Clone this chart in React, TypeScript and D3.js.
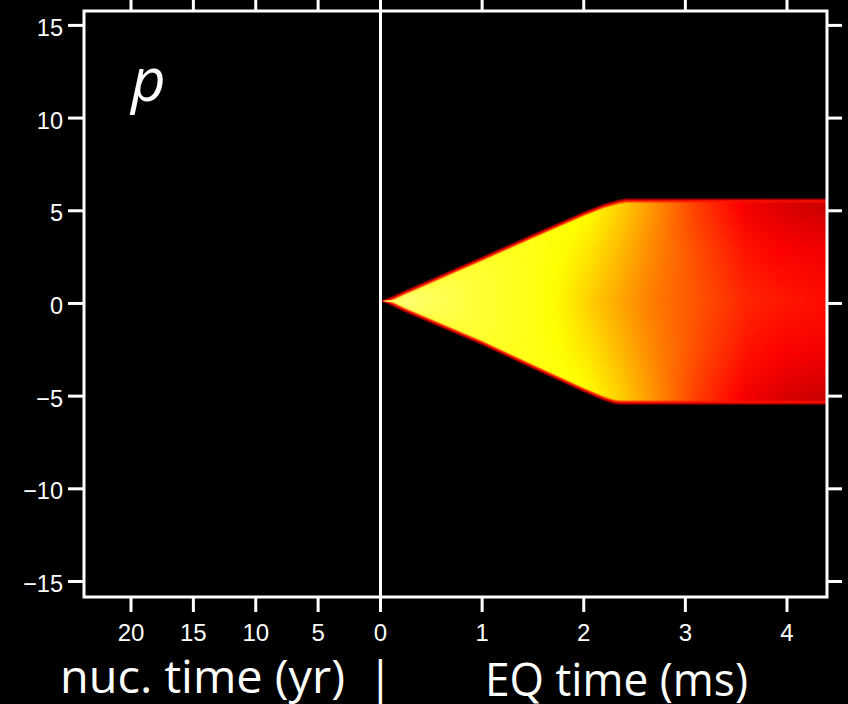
import React from 'react';
import * as d3 from 'd3';

// ---- data ----
const yTicks = [-15, -10, -5, 0, 5, 10, 15];
const nucTicks = [20, 15, 10, 5, 0];
const eqTicks = [1, 2, 3, 4];

// outline of the coloured region (EQ time in ms, position units)
const edgeTimes = [0.02, 0.25, 0.5, 1.0, 1.5, 2.0, 2.2, 2.3, 2.35, 2.42, 4.4];
const upperEdge = [0.13, 0.7, 1.3, 2.5, 3.72, 4.92, 5.35, 5.5, 5.58, 5.64, 5.64];
const lowerEdge = [0.13, -0.47, -1.05, -2.22, -3.5, -4.76, -5.22, -5.4, -5.43, -5.44, -5.44];

// colour level (0..1 on the "hot" map) along the band
const fieldTimes = [0.02, 0.5, 1.0, 1.5, 1.75, 2.05, 2.35, 2.65, 3.1, 3.6, 4.0, 4.4];
const centerLevel = [0.88, 0.84, 0.8, 0.77, 0.74, 0.68, 0.62, 0.56, 0.5, 0.43, 0.405, 0.39];
const midLevel = [0.87, 0.83, 0.8, 0.77, 0.75, 0.71, 0.65, 0.58, 0.49, 0.4, 0.37, 0.355];
const rimLevel = [0.84, 0.81, 0.79, 0.77, 0.76, 0.74, 0.68, 0.6, 0.47, 0.36, 0.32, 0.3];

const panelLabel = 'p';
const nucTitle = 'nuc. time (yr)';
const eqTitle = 'EQ time (ms)';

// ---- layout ----
const W = 848;
const H = 704;
const frame = { left: 84, top: 11, right: 827, bottom: 597 };
const zeroX = 380.5;

const y = d3.scaleLinear().domain([-15, 15]).range([581.5, 25.4]);
const xMs = d3.scaleLinear().domain([0, 4]).range([zeroX, 787]);
const xYr = d3.scaleLinear().domain([0, 20]).range([zeroX, 131]);

const upperS = d3.scaleLinear().domain(edgeTimes).range(upperEdge).clamp(true);
const lowerS = d3.scaleLinear().domain(edgeTimes).range(lowerEdge).clamp(true);
const centerS = d3.scaleLinear().domain(fieldTimes).range(centerLevel).clamp(true);
const midS = d3.scaleLinear().domain(fieldTimes).range(midLevel).clamp(true);
const rimS = d3.scaleLinear().domain(fieldTimes).range(rimLevel).clamp(true);

function hot(v: number): string {
  const c = (x: number) => Math.max(0, Math.min(1, x));
  return d3.rgb(255 * c(v / 0.375), 255 * c((v - 0.375) / 0.375), 255 * c((v - 0.75) / 0.25)).formatHex();
}

type Stop = { o: number; c: string };
type Col = { x: number; y: number; h: number; stops: Stop[] };

function buildColumns(): Col[] {
  const cols: Col[] = [];
  const start = Math.floor(xMs(edgeTimes[0]));
  for (let px = start; px < frame.right; px++) {
    const t = Math.max(edgeTimes[0], xMs.invert(px + 0.5));
    const yTop = y(upperS(t)) - 1;
    const yBot = y(lowerS(t)) + 1;
    const h = Math.max(0.01, yBot - yTop);
    const cV = centerS(t), mV = midS(t), rV = rimS(t);
    const outer = hot(0.04), dark = hot(0.24), red = hot(0.4);
    const inner = Math.min(5.5 / h, 0.45);
    const stops: Stop[] = [
      { o: 0, c: outer },
      { o: Math.min(1.5 / h, 0.2), c: dark },
      { o: Math.min(3 / h, 0.32), c: red },
      { o: inner, c: hot(rV) },
    ];
    const interior: Stop[] = [
      { o: 0.05, c: hot(rV) },
      { o: 0.25, c: hot(mV) },
      { o: 0.5, c: hot(cV) },
      { o: 0.75, c: hot(mV) },
      { o: 0.95, c: hot(rV) },
    ];
    interior.forEach((s) => {
      if (s.o > inner && s.o < 1 - inner) stops.push(s);
    });
    if (inner >= 0.45) stops.push({ o: 0.5, c: hot(cV) });
    stops.push({ o: 1 - inner, c: hot(rV) });
    stops.push({ o: Math.max(1 - 3 / h, 0.68), c: red });
    stops.push({ o: Math.max(1 - 1.5 / h, 0.8), c: dark });
    stops.push({ o: 1, c: outer });
    cols.push({ x: px, y: yTop, h, stops });
  }
  return cols;
}

export default function App() {
  const cols = buildColumns();
  const tickFont = '"Liberation Sans", Arial, sans-serif';
  const titleFont = '"Open Sans", "DejaVu Sans", sans-serif';
  const sw = 3;
  return (
    <svg width={W} height={H} style={{ position: 'absolute', left: 0, top: 0, display: 'block' }}>
      <rect x={0} y={0} width={W} height={H} fill="#000" />
      <defs>
        {cols.map((c, i) => (
          <linearGradient key={i} id={`g${i}`} x1="0" y1="0" x2="0" y2="1">
            {c.stops.map((s, j) => (
              <stop key={j} offset={s.o} stopColor={s.c} />
            ))}
          </linearGradient>
        ))}
      </defs>
      {/* heat map */}
      <g shapeRendering="crispEdges">
        {cols.map((c, i) => (
          <rect key={i} x={c.x} y={c.y} width={1.6} height={c.h} fill={`url(#g${i})`} />
        ))}
      </g>

      {/* frame */}
      <rect
        x={frame.left}
        y={frame.top}
        width={frame.right - frame.left}
        height={frame.bottom - frame.top}
        fill="none"
        stroke="#fff"
        strokeWidth={sw}
      />
      <line x1={zeroX} x2={zeroX} y1={frame.top} y2={frame.bottom} stroke="#fff" strokeWidth={sw} />

      {/* y ticks left & right */}
      {yTicks.map((v) => (
        <g key={`y${v}`}>
          <line x1={68} x2={frame.left} y1={y(v)} y2={y(v)} stroke="#fff" strokeWidth={sw} />
          <line x1={frame.right} x2={842} y1={y(v)} y2={y(v)} stroke="#fff" strokeWidth={sw} />
          <text
            x={63}
            y={y(v) + 10.5}
            textAnchor="end"
            fill="#fff"
            fontFamily={tickFont}
            fontSize={23.5}
          >
            {v < 0 ? `\u2212${Math.abs(v)}` : `${v}`}
          </text>
        </g>
      ))}

      {/* x ticks bottom & top */}
      {nucTicks.map((v) => (
        <g key={`n${v}`}>
          <line x1={xYr(v)} x2={xYr(v)} y1={frame.bottom} y2={612} stroke="#fff" strokeWidth={sw} />
          <line x1={xYr(v)} x2={xYr(v)} y1={0} y2={frame.top} stroke="#fff" strokeWidth={sw} />
          <text x={xYr(v)} y={641} textAnchor="middle" fill="#fff" fontFamily={tickFont} fontSize={24}>
            {v}
          </text>
        </g>
      ))}
      {eqTicks.map((v) => (
        <g key={`e${v}`}>
          <line x1={xMs(v)} x2={xMs(v)} y1={frame.bottom} y2={612} stroke="#fff" strokeWidth={sw} />
          <line x1={xMs(v)} x2={xMs(v)} y1={0} y2={frame.top} stroke="#fff" strokeWidth={sw} />
          <text x={xMs(v)} y={641} textAnchor="middle" fill="#fff" fontFamily={tickFont} fontSize={24}>
            {v}
          </text>
        </g>
      ))}

      {/* panel label */}
      <text x={131} y={101} fill="#fff" fontFamily={titleFont} fontStyle="italic" fontSize={60}>
        {panelLabel}
      </text>

      {/* axis titles */}
      <text x={60} y={693} fill="#fff" fontFamily={titleFont} fontSize={46} textLength={285} lengthAdjust="spacingAndGlyphs">
        {nucTitle}
      </text>
      <text x={zeroX} y={694} fill="#fff" fontFamily={titleFont} fontSize={46} textAnchor="middle">
        |
      </text>
      <text x={485} y={696} fill="#fff" fontFamily={titleFont} fontSize={46} textLength={263} lengthAdjust="spacingAndGlyphs">
        {eqTitle}
      </text>
    </svg>
  );
}
